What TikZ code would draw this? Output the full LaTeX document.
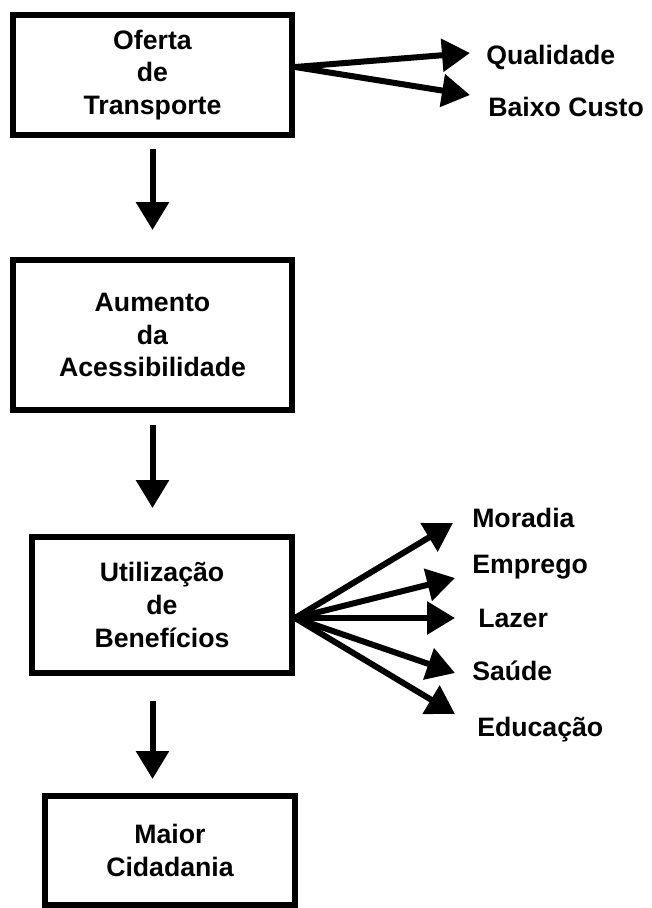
\documentclass[tikz,border=0pt]{standalone}
\usepackage{fontspec}
\setmainfont{Liberation Sans}
\usetikzlibrary{arrows.meta}

\begin{document}
\begin{tikzpicture}[x=0.75pt,y=-0.75pt,
        caixa/.style={draw,line width=4.5pt,align=center,inner sep=0pt,font=\bfseries\fontsize{20}{24.5}\selectfont},
        seta/.style={-{Triangle[length=21pt,width=24pt]},line width=4.5pt},
        rotulo/.style={anchor=west,inner sep=0pt,font=\bfseries\fontsize{20}{24}\selectfont}]
            \useasboundingbox (0,0) rectangle (651,908);

            \node[caixa,minimum width=209.25pt,minimum height=90pt] (oferta) at (152.5,75) {Oferta\\de\\Transporte};
            \node[caixa,minimum width=209.25pt,minimum height=112.5pt] (aumento) at (152.5,335) {Aumento\\da\\Acessibilidade};
            \node[caixa,minimum width=195pt,minimum height=102pt] (utiliz) at (162,605) {Utiliza\c{c}\~ao\\de\\Benef\'icios};
            \node[caixa,minimum width=187.5pt,minimum height=81.75pt] (maior) at (170,850.5) {Maior\\Cidadania};

            \node[rotulo] (qualidade) at (486,57) {Qualidade};
            \node[rotulo] (custo) at (488,107) {Baixo Custo};
            \node[rotulo] (moradia) at (472,518) {Moradia};
            \node[rotulo] (emprego) at (472,567) {Emprego};
            \node[rotulo] (lazer) at (478,618) {Lazer};
            \node[rotulo] (saude) at (472,671) {Sa\'ude};
            \node[rotulo] (educacao) at (477,730) {Educa\c{c}\~ao};

            \draw[seta] ([yshift=6pt]oferta.east) -- ([xshift=-12pt,yshift=3pt]qualidade.west);
            \draw[seta] ([yshift=6pt]oferta.east) -- ([xshift=-13.5pt,yshift=9pt]custo.west);

            \draw[seta] ([yshift=-9.75pt]utiliz.east) -- ([xshift=-14.25pt,yshift=-3.75pt]moradia.west);
            \draw[seta] ([yshift=-9.75pt]utiliz.east) -- ([xshift=-12.75pt,yshift=-8.25pt]emprego.west);
            \draw[seta] ([yshift=-9.75pt]utiliz.east) -- ([xshift=-17.25pt]lazer.west);
            \draw[seta] ([yshift=-9.75pt]utiliz.east) -- ([xshift=-12.75pt,yshift=-1.5pt]saude.west);
            \draw[seta] ([yshift=-9.75pt]utiliz.east) -- ([xshift=-16.5pt,yshift=12pt]educacao.west);

            \draw[seta,shorten <=8.25pt,shorten >=20.25pt] (oferta.south) -- (aumento.north);
            \draw[seta,shorten <=9pt,shorten >=19.5pt] (aumento.south) -- (aumento.south |- utiliz.north);
            \draw[seta,shorten <=18.75pt,shorten >=10.5pt] (aumento.south |- utiliz.south) -- (aumento.south |- maior.north);
        \end{tikzpicture}
\end{document}
